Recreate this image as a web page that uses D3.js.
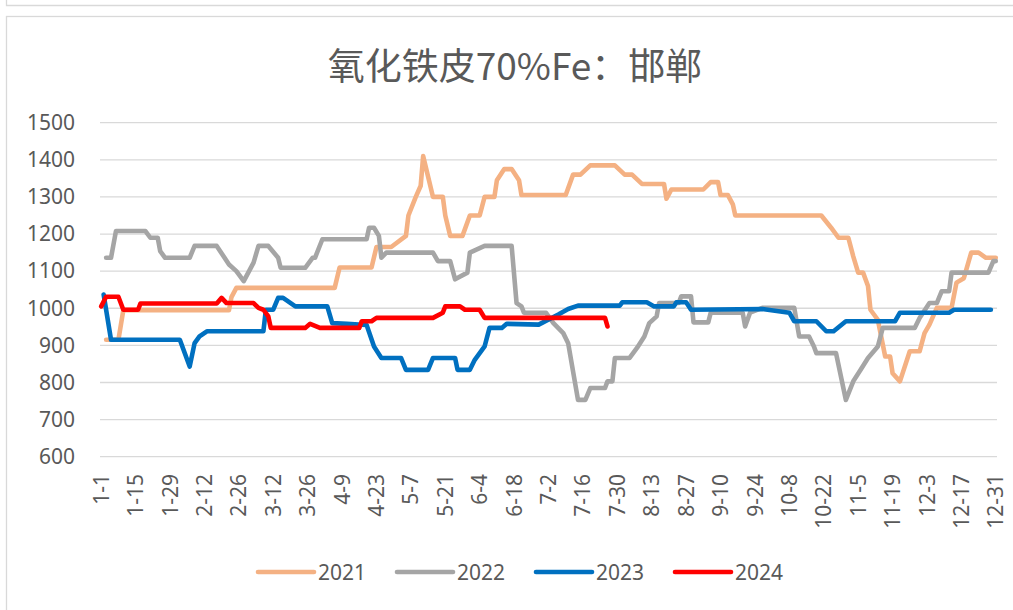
<!DOCTYPE html>
<html lang="zh">
<head>
<meta charset="UTF-8">
<script src="https://d3js.org/d3.v7.min.js"></script>
<title>氧化铁皮70%Fe：邯郸</title>
<style>
  body { margin: 0; background: #fff; }
  text { font-family: "Noto Sans", "Noto Sans CJK SC", sans-serif; fill: #595959; }
</style>
</head>
<body>
<div id="chart"></div>
<script>
// tick labels on the category axis (every 14 days)
var tickLabels = ["1-1","1-15","1-29","2-12","2-26","3-12","3-26","4-9","4-23","5-7","5-21","6-4","6-18","7-2",
  "7-16","7-30","8-13","8-27","9-10","9-24","10-8","10-22","11-5","11-19","12-3","12-17","12-31"];
var yTicks = [600, 700, 800, 900, 1000, 1100, 1200, 1300, 1400, 1500];
var years = ["2021", "2022", "2023", "2024"];

// price points [month-day, yuan/ton]
var s2021 = [["1-3",915],["1-8",915],["1-10",995],["2-22",995],["2-23",1030],["2-25",1055],["4-6",1055],
  ["4-8",1110],["4-21",1110],["4-23",1165],["4-29",1165],["5-5",1195],["5-6",1250],["5-9",1300],["5-11",1330],
  ["5-12",1410],["5-16",1300],["5-20",1300],["5-21",1250],["5-23",1195],["5-28",1195],["5-31",1250],["6-4",1250],
  ["6-6",1300],["6-10",1300],["6-11",1345],["6-14",1375],["6-17",1375],["6-20",1345],["6-21",1305],["7-9",1305],
  ["7-12",1360],["7-15",1360],["7-19",1385],["7-29",1385],["8-2",1360],["8-5",1360],["8-9",1335],["8-18",1335],
  ["8-19",1295],["8-21",1320],["9-3",1320],["9-6",1340],["9-9",1340],["9-10",1305],["9-13",1305],["9-15",1280],
  ["9-16",1250],["10-21",1250],["10-25",1217],["10-28",1190],["11-1",1190],["11-3",1140],["11-5",1096],
  ["11-7",1096],["11-9",1060],["11-10",996],["11-13",969],["11-16",870],["11-18",870],["11-19",825],
  ["11-22",803],["11-26",884],["11-30",884],["12-2",933],["12-4",956],["12-7",1001],["12-13",1001],
  ["12-15",1069],["12-18",1081],["12-21",1150],["12-24",1150],["12-27",1136],["12-31",1136]];

var s2022 = [["1-3",1136],["1-5",1136],["1-7",1208],["1-19",1208],["1-21",1190],["1-24",1190],["1-25",1154],
  ["1-27",1136],["2-6",1136],["2-8",1168],["2-17",1168],["2-22",1118],["2-25",1100],["2-28",1073],["3-4",1123],
  ["3-6",1168],["3-10",1168],["3-14",1136],["3-15",1109],["3-25",1109],["3-28",1136],["3-29",1136],["4-1",1186],
  ["4-19",1186],["4-20",1217],["4-22",1217],["4-24",1195],["4-25",1136],["4-27",1150],["5-16",1150],["5-18",1127],
  ["5-23",1127],["5-25",1078],["5-30",1096],["5-31",1150],["6-6",1168],["6-17",1168],["6-19",1014],["6-21",1005],
  ["6-22",988],["7-1",988],["7-4",960],["7-8",933],["7-10",906],["7-14",753],["7-17",753],["7-19",785],
  ["7-25",785],["7-26",803],["7-28",803],["7-29",866],["8-4",866],["8-7",893],["8-10",924],["8-12",960],
  ["8-15",978],["8-16",1014],["8-24",1014],["8-25",1032],["8-29",1032],["8-30",962],["9-5",962],["9-6",988],
  ["9-19",988],["9-20",951],["9-22",988],["9-27",1001],["10-10",1001],["10-12",924],["10-16",924],["10-18",897],
  ["10-19",879],["10-27",879],["10-31",753],["11-3",803],["11-6",834],["11-9",866],["11-13",897],["11-15",947],
  ["11-28",947],["11-30",974],["12-4",1014],["12-7",1014],["12-9",1046],["12-12",1046],["12-13",1096],
  ["12-28",1096],["12-30",1127],["12-31",1127]];

var s2023 = [["1-2",1037],["1-5",915],["2-2",915],["2-6",843],["2-8",906],["2-10",924],["2-13",938],["3-8",938],
  ["3-9",996],["3-12",996],["3-14",1028],["3-16",1028],["3-21",1005],["4-3",1005],["4-5",960],["4-11",958],
  ["4-19",955],["4-22",897],["4-25",866],["5-3",866],["5-5",834],["5-14",834],["5-16",866],["5-25",866],
  ["5-26",834],["5-31",834],["6-2",861],["6-6",897],["6-8",947],["6-13",947],["6-15",958],["6-28",956],
  ["7-6",983],["7-10",998],["7-14",1007],["7-31",1007],["8-1",1016],["8-11",1016],["8-14",1005],["8-22",1005],
  ["8-23",1016],["8-27",1016],["8-29",996],["9-27",998],["10-8",988],["10-10",965],["10-19",965],["10-23",938],
  ["10-26",938],["10-31",965],["11-20",965],["11-22",988],["12-12",988],["12-14",996],["12-29",996]];

var s2024 = [["1-1",1005],["1-3",1031],["1-8",1031],["1-10",996],["1-16",996],["1-17",1013],["2-17",1013],
  ["2-19",1028],["2-21",1014],["3-4",1014],["3-6",1001],["3-8",996],["3-10",978],["3-11",947],["3-25",947],
  ["3-27",958],["3-31",947],["4-16",947],["4-17",965],["4-21",965],["4-23",974],["5-16",974],["5-20",988],
  ["5-21",1005],["5-27",1005],["5-29",996],["6-4",996],["6-6",974],["7-25",974],["7-26",951]];

var colors = ["#F4B183", "#A5A5A5", "#0070C0", "#FF0000"];
var allSeries = [s2021, s2022, s2023, s2024];

var W = 1013, H = 610;
var margin = {left: 100, right: 16, top: 122.7, bottom: 153.3};

var svg = d3.select("#chart").append("svg")
  .attr("width", W).attr("height", H);

svg.append("rect").attr("width", W).attr("height", H).attr("fill", "#fff");

// frame of the previous box and this chart box
svg.append("path").attr("d", "M6.5,0V5.5H" + W).attr("fill", "none").attr("stroke", "#d9d9d9").attr("stroke-width", 1.3);
svg.append("rect").attr("x", 6.5).attr("y", 16.5).attr("width", W + 20).attr("height", H + 20)
  .attr("fill", "none").attr("stroke", "#d9d9d9").attr("stroke-width", 1.3);

// day-of-year on a common (non-leap) calendar
var parse = d3.timeParse("%Y-%m-%d");
var jan1 = parse("2021-01-01");
function dayOf(md) {
  var p = md.split("-");
  return d3.timeDay.count(jan1, parse("2021-" + p[0].padStart(2, "0") + "-" + p[1].padStart(2, "0")));
}

var x = d3.scaleLinear().domain([0, 364]).range([101.2, 995.8]);
var y = d3.scaleLinear().domain([600, 1500]).range([456.7, 122.7]);

// gridlines
svg.append("g").selectAll("line").data(yTicks).enter().append("line")
  .attr("x1", 100).attr("x2", 997)
  .attr("y1", function(d) { return y(d); }).attr("y2", function(d) { return y(d); })
  .attr("stroke", "#d9d9d9").attr("stroke-width", 1.3);

// y axis labels
svg.append("g").selectAll("text").data(yTicks).enter().append("text")
  .attr("x", 75).attr("y", function(d) { return y(d); })
  .attr("dy", "0.35em").attr("text-anchor", "end")
  .style("font-size", "21px")
  .text(function(d) { return d; });

// x axis labels, rotated
svg.append("g").selectAll("text").data(tickLabels).enter().append("text")
  .attr("transform", function(d) { return "translate(" + x(dayOf(d)) + ",474) rotate(-90)"; })
  .attr("dy", "0.36em").attr("text-anchor", "end")
  .style("font-size", "21px")
  .text(function(d) { return d; });

// lines
var line = d3.line()
  .x(function(d) { return x(dayOf(d[0])); })
  .y(function(d) { return y(d[1]); });

svg.append("g").selectAll("path").data(allSeries).enter().append("path")
  .attr("d", line)
  .attr("fill", "none")
  .attr("stroke", function(d, i) { return colors[i]; })
  .attr("stroke-width", 4.6)
  .attr("stroke-linejoin", "round")
  .attr("stroke-linecap", "round");

// title
svg.append("text")
  .attr("x", 515).attr("y", 64)
  .attr("text-anchor", "middle").attr("dominant-baseline", "central")
  .style("font-family", "'Noto Sans CJK SC', sans-serif")
  .style("font-size", "37px")
  .text("氧化铁皮70%Fe：邯郸");

// legend
var legend = svg.append("g").selectAll("g").data(years).enter().append("g")
  .attr("transform", function(d, i) { return "translate(" + (257 + i * 139) + ",572)"; });
legend.append("line").attr("x1", 1).attr("x2", 57)
  .attr("stroke", function(d, i) { return colors[i]; })
  .attr("stroke-width", 4.6).attr("stroke-linecap", "round");
legend.append("text").attr("x", 61).attr("dy", "0.36em")
  .style("font-size", "21px")
  .text(function(d) { return d; });
</script>
</body>
</html>
